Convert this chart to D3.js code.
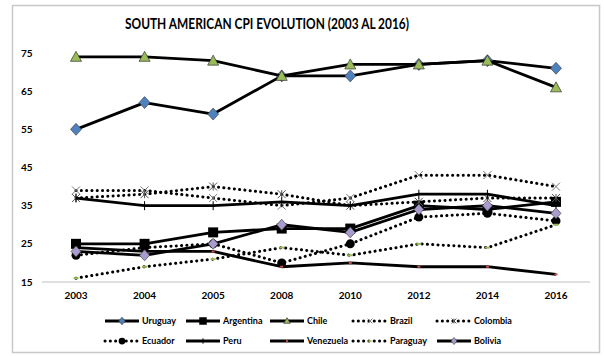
<!DOCTYPE html>
<html>
<head>
<meta charset="utf-8">
<script src="https://cdn.jsdelivr.net/npm/d3@7"></script>
<style>
  html, body { margin: 0; padding: 0; background: #fff; }
  svg { display: block; }
  text { font-family: Lato, "Open Sans", sans-serif; font-weight: bold; fill: #000; }
</style>
</head>
<body>
<svg id="chart" width="604" height="356"></svg>
<script>
// Corruption Perceptions Index by country and year
const years = ["2003", "2004", "2005", "2008", "2010", "2012", "2014", "2016"];
const yTicks = [15, 25, 35, 45, 55, 65, 75];

const uruguay   = [55, 62, 59, 69, 69, 72, 73, 71];
const argentina = [25, 25, 28, 29, 29, 35, 34, 36];
const chile     = [74, 74, 73, 69, 72, 72, 73, 66];
const brazil    = [39, 39, 37, 35, 37, 43, 43, 40];
const colombia  = [37, 38, 40, 38, 35, 36, 37, 37];
const ecuador   = [22, 24, 25, 20, 25, 32, 33, 31];
const peru      = [37, 35, 35, 36, 35, 38, 38, 35];
const venezuela = [24, 23, 23, 19, 20, 19, 19, 17];
const paraguay  = [16, 19, 21, 24, 22, 25, 24, 30];
const bolivia   = [23, 22, 25, 30, 28, 34, 35, 33];

const seriesNames = ["Uruguay", "Argentina", "Chile", "Brazil", "Colombia",
                     "Ecuador", "Peru", "Venezuela", "Paraguay", "Bolivia"];
const seriesValues = [uruguay, argentina, chile, brazil, colombia,
                      ecuador, peru, venezuela, paraguay, bolivia];

// line style + marker per series
const styles = {
  Uruguay:   { dotted: false, marker: "diamond",  fill: "#4F81BD", size: 11 },
  Argentina: { dotted: false, marker: "square",   fill: "#000",    size: 10 },
  Chile:     { dotted: false, marker: "triangle", fill: "#9BBB59", size: 11 },
  Brazil:    { dotted: true,  marker: "x",        fill: "#777",    size: 8 },
  Colombia:  { dotted: true,  marker: "star",     fill: "#555",    size: 8 },
  Ecuador:   { dotted: true,  marker: "circle",   fill: "#000",    size: 9 },
  Peru:      { dotted: false, marker: "plus",     fill: "#000",    size: 9 },
  Venezuela: { dotted: false, marker: "dash",     fill: "#C0504D", size: 3 },
  Paraguay:  { dotted: true,  marker: "dash",     fill: "#9BBB59", size: 5 },
  Bolivia:   { dotted: false, marker: "diamond",  fill: "#A99BCD", size: 10 }
};

const svg = d3.select("#chart");

// outer frame
svg.append("rect")
  .attr("x", 12.5).attr("y", 5.5).attr("width", 587).attr("height", 347)
  .attr("fill", "#fff").attr("stroke", "#c8c8c8").attr("stroke-width", 1.5);

svg.append("text")
  .attr("x", 267).attr("y", 29)
  .attr("text-anchor", "middle")
  .attr("textLength", 284).attr("lengthAdjust", "spacingAndGlyphs")
  .style("font-size", "14.5px")
  .text("SOUTH AMERICAN CPI EVOLUTION (2003 AL 2016)");

const x = d3.scalePoint().domain(years).range([76, 556]);
const y = d3.scaleLinear().domain([15, 75]).range([282, 53]);

// x axis baseline
svg.append("line")
  .attr("x1", 42).attr("x2", 590)
  .attr("y1", y(15)).attr("y2", y(15))
  .attr("stroke", "#c0c0c0").attr("stroke-width", 1);

// y tick labels
svg.append("g").selectAll("text").data(yTicks).join("text")
  .attr("x", 21).attr("y", d => y(d) + 3.5)
  .style("font-size", "10px")
  .text(d => d);

// x tick labels
svg.append("g").selectAll("text").data(years).join("text")
  .attr("x", d => x(d)).attr("y", 299)
  .attr("text-anchor", "middle")
  .style("font-size", "10px")
  .text(d => d);

function drawMarker(g, st, cx, cy, scale) {
  const s = st.size * (scale || 1);
  const h = s / 2;
  switch (st.marker) {
    case "diamond":
      g.append("path")
        .attr("d", `M${cx},${cy - h - 0.5}L${cx + h},${cy}L${cx},${cy + h + 0.5}L${cx - h},${cy}Z`)
        .attr("fill", st.fill).attr("stroke", "#333").attr("stroke-width", 0.6);
      break;
    case "square":
      g.append("rect")
        .attr("x", cx - h).attr("y", cy - h).attr("width", s).attr("height", s)
        .attr("fill", st.fill);
      break;
    case "triangle":
      g.append("path")
        .attr("d", `M${cx},${cy - h}L${cx + h},${cy + h - 1}L${cx - h},${cy + h - 1}Z`)
        .attr("fill", st.fill).attr("stroke", "#333").attr("stroke-width", 0.7);
      break;
    case "circle":
      g.append("circle").attr("cx", cx).attr("cy", cy).attr("r", h)
        .attr("fill", st.fill);
      break;
    case "x":
      g.append("path")
        .attr("d", `M${cx - h},${cy - h}L${cx + h},${cy + h}M${cx - h},${cy + h}L${cx + h},${cy - h}`)
        .attr("stroke", st.fill).attr("stroke-width", 1);
      break;
    case "star":
      g.append("path")
        .attr("d", `M${cx - h},${cy - h}L${cx + h},${cy + h}M${cx - h},${cy + h}L${cx + h},${cy - h}M${cx},${cy - h}L${cx},${cy + h}`)
        .attr("stroke", st.fill).attr("stroke-width", 1);
      break;
    case "plus":
      g.append("path")
        .attr("d", `M${cx},${cy - h}L${cx},${cy + h}`)
        .attr("stroke", "#000").attr("stroke-width", 1);
      break;
    case "dash":
      g.append("rect")
        .attr("x", cx - h).attr("y", cy - 1).attr("width", s).attr("height", 2)
        .attr("fill", st.fill);
      break;
  }
}

function applyLine(sel, st) {
  sel.attr("fill", "none").attr("stroke", "#000");
  if (st.dotted) {
    sel.attr("stroke-width", 3).attr("stroke-linecap", "round")
      .attr("stroke-dasharray", "0.1 5.2");
  } else {
    sel.attr("stroke-width", 2.8).attr("stroke-linejoin", "round");
  }
  return sel;
}

const line = d3.line().x((d, i) => x(years[i])).y(d => y(d));
const plot = svg.append("g");

seriesNames.forEach((name, k) => {
  const st = styles[name];
  const vals = seriesValues[k];
  const g = plot.append("g");
  applyLine(g.append("path").attr("d", line(vals)), st);
  vals.forEach((v, i) => drawMarker(g, st, x(years[i]), y(v)));
});

// legend, two rows of five
const legendCols = [105, 186, 270, 353, 437];
const legendRows = [321, 341];
const legend = svg.append("g");
seriesNames.forEach((name, k) => {
  const st = styles[name];
  const lx = legendCols[k % 5];
  const ly = legendRows[Math.floor(k / 5)];
  const g = legend.append("g");
  applyLine(g.append("line")
    .attr("x1", lx).attr("x2", lx + 34)
    .attr("y1", ly).attr("y2", ly), st);
  drawMarker(g, st, lx + 17, ly, st.marker === "square" || st.marker === "circle" ? 0.75 : 0.6);
  g.append("text")
    .attr("x", lx + 37).attr("y", ly + 3.2)
    .style("font-size", "9px")
    .text(name);
});
</script>
</body>
</html>
